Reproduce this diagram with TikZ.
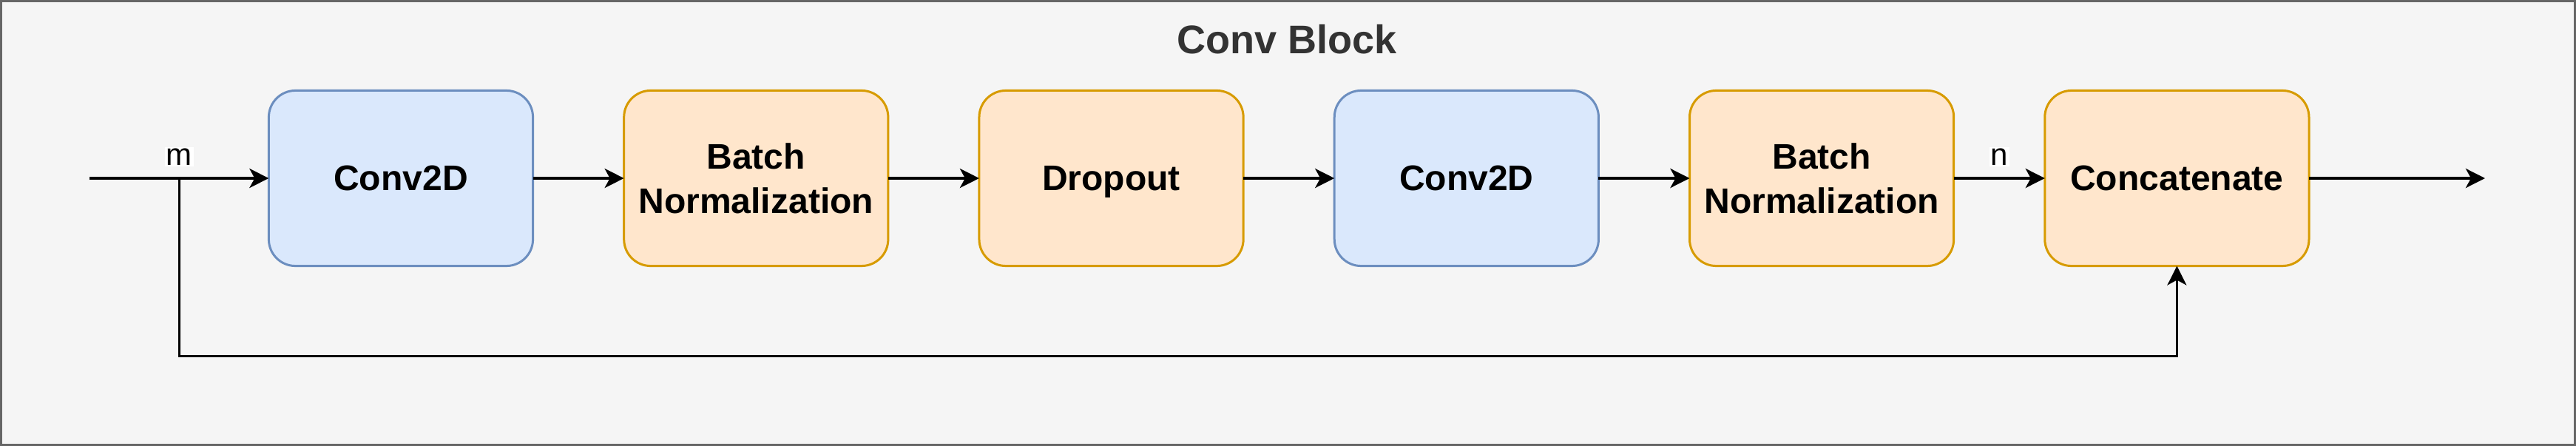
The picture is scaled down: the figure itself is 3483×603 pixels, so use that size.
\documentclass[tikz,border=0pt]{standalone}
\usepackage{fontspec}
\setmainfont{Liberation Sans}
\usetikzlibrary{positioning,arrows.meta}
\definecolor{convfill}{HTML}{DAE8FC}
\definecolor{convline}{HTML}{6C8EBF}
\definecolor{normfill}{HTML}{FFE6CC}
\definecolor{normline}{HTML}{D79B00}
\definecolor{blockfill}{HTML}{F5F5F5}
\definecolor{blockline}{HTML}{666666}
\definecolor{titletext}{HTML}{333333}
\begin{document}
\begin{tikzpicture}[x=0.01cm,y=-0.01cm,on grid,node distance=4.8cm,
  layer/.style={draw,line width=0.03cm,rounded corners=0.36cm,minimum width=3.57cm,minimum height=2.37cm,inner sep=0pt,outer sep=0pt,align=center,font=\fontsize{13.66}{17.1}\selectfont\bfseries},
  conv/.style={layer,fill=convfill,draw=convline},
  norm/.style={layer,fill=normfill,draw=normline},
  flow/.style={line width=0.04cm,-{Stealth[length=0.26cm,width=0.26cm,inset=0.07cm]}},
  skip/.style={line width=0.03cm,-{Stealth[length=0.26cm,width=0.26cm,inset=0.07cm]}},
  tag/.style={fill=white,inner sep=0.02cm,yshift=0.29cm,font=\fontsize{11.95}{14}\selectfont}]
\useasboundingbox(0,0)rectangle(3483,603);
\draw[draw=blockline,fill=blockfill,line width=0.03cm](1.5,1.5)rectangle(3481.5,601.5);
\node[anchor=base,text=titletext,font=\fontsize{15.37}{18}\selectfont\bfseries](title)at(1740,73){Conv Block};
% layers
\node[conv](c1)at(542,241){Conv2D};
\node[norm,right=of c1](n1){Batch\\Normalization};
\node[norm,right=of n1,text depth=0pt](d1){Dropout};
\node[conv,right=of d1](c2){Conv2D};
\node[norm,right=of c2](n2){Batch\\Normalization};
\node[norm,right=of n2](cat){Concatenate};
\coordinate(in)at(121,241);
\coordinate(fork)at(242,241);
\coordinate(out)at(3360,241);
% connections
\draw[flow](in)--node[tag]{m}(c1);
\foreach \a/\b in {c1/n1,n1/d1,d1/c2,c2/n2}{\draw[flow](\a)--(\b);}
\draw[flow](n2)--node[tag]{n}(cat);
\draw[flow](cat)--(out);
\draw[skip](fork)--++(0,240)-|(cat.south);
\end{tikzpicture}
\end{document}
